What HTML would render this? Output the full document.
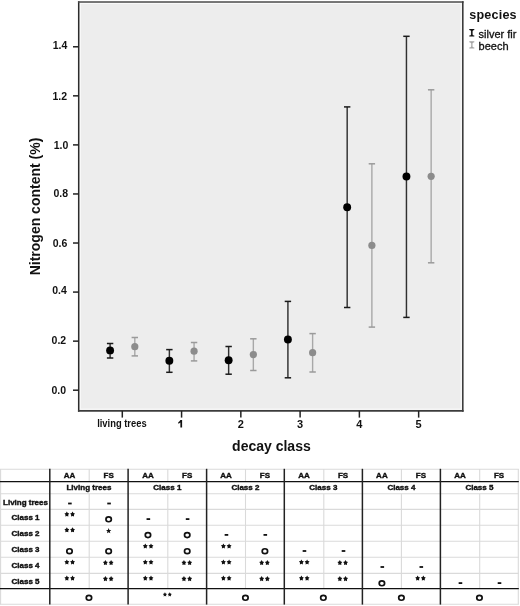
<!DOCTYPE html>
<html><head><meta charset="utf-8"><style>
html,body{margin:0;padding:0;background:#fff;width:520px;height:606px;overflow:hidden;}
svg{display:block;will-change:transform;}
text{font-family:"Liberation Sans", sans-serif;}
</style></head><body>
<svg width="520" height="606" viewBox="0 0 520 606">

<rect x="78.7" y="1.9" width="384.10" height="409.00" fill="#ededed"/>
<rect x="80.30" y="3.50" width="380.90" height="405.60" fill="none" stroke="#f9f9f9" stroke-width="1.1"/>
<line x1="78.7" y1="1.15" x2="78.7" y2="411.79999999999995" stroke="#2c2c2c" stroke-width="1.5"/>
<line x1="77.95" y1="1.9" x2="463.6" y2="1.9" stroke="#4c4c4c" stroke-width="1.5"/>
<line x1="462.8" y1="1.15" x2="462.8" y2="411.79999999999995" stroke="#3c3c3c" stroke-width="1.6"/>
<line x1="77.95" y1="410.9" x2="463.6" y2="410.9" stroke="#3c3c3c" stroke-width="1.9"/>
<line x1="73" y1="390.20" x2="78.7" y2="390.20" stroke="#222" stroke-width="1.5"/>
<text x="66.00" y="393.50" font-size="10.5" font-weight="bold" text-anchor="end" fill="#111">0.0</text>
<line x1="73" y1="341.14" x2="78.7" y2="341.14" stroke="#222" stroke-width="1.5"/>
<text x="66.20" y="343.84" font-size="10.5" font-weight="bold" text-anchor="end" fill="#111">0.2</text>
<line x1="73" y1="292.08" x2="78.7" y2="292.08" stroke="#222" stroke-width="1.5"/>
<text x="66.80" y="293.78" font-size="10.5" font-weight="bold" text-anchor="end" fill="#111">0.4</text>
<line x1="73" y1="243.02" x2="78.7" y2="243.02" stroke="#222" stroke-width="1.5"/>
<text x="67.40" y="247.02" font-size="10.5" font-weight="bold" text-anchor="end" fill="#111">0.6</text>
<line x1="73" y1="193.96" x2="78.7" y2="193.96" stroke="#222" stroke-width="1.5"/>
<text x="68.00" y="197.06" font-size="10.5" font-weight="bold" text-anchor="end" fill="#111">0.8</text>
<line x1="73" y1="144.90" x2="78.7" y2="144.90" stroke="#222" stroke-width="1.5"/>
<text x="68.30" y="149.10" font-size="10.5" font-weight="bold" text-anchor="end" fill="#111">1.0</text>
<line x1="73" y1="95.84" x2="78.7" y2="95.84" stroke="#222" stroke-width="1.5"/>
<text x="67.10" y="99.74" font-size="10.5" font-weight="bold" text-anchor="end" fill="#111">1.2</text>
<line x1="73" y1="46.78" x2="78.7" y2="46.78" stroke="#222" stroke-width="1.5"/>
<text x="67.40" y="49.48" font-size="10.5" font-weight="bold" text-anchor="end" fill="#111">1.4</text>
<line x1="122.30" y1="410.9" x2="122.30" y2="417.6" stroke="#222" stroke-width="1.5"/>
<text x="121.90" y="427" font-size="11" font-weight="bold" textLength="49.5" lengthAdjust="spacingAndGlyphs" text-anchor="middle" fill="#111">living trees</text>
<line x1="181.57" y1="410.9" x2="181.57" y2="417.6" stroke="#222" stroke-width="1.5"/>
<path d="M180.37,420.0 L182.12,420.0 L182.12,427.6 L180.37,427.6 L180.37,422.6 Q179.37,423.4 178.27,423.7 L178.27,422.3 Q179.77,421.6 180.37,420.0 Z" fill="#111"/>
<line x1="240.84" y1="410.9" x2="240.84" y2="417.6" stroke="#222" stroke-width="1.5"/>
<text x="240.84" y="427.6" font-size="11" font-weight="bold" text-anchor="middle" fill="#111">2</text>
<line x1="300.11" y1="410.9" x2="300.11" y2="417.6" stroke="#222" stroke-width="1.5"/>
<text x="300.11" y="427.6" font-size="11" font-weight="bold" text-anchor="middle" fill="#111">3</text>
<line x1="359.38" y1="410.9" x2="359.38" y2="417.6" stroke="#222" stroke-width="1.5"/>
<text x="359.38" y="427.6" font-size="11" font-weight="bold" text-anchor="middle" fill="#111">4</text>
<line x1="418.65" y1="410.9" x2="418.65" y2="417.6" stroke="#222" stroke-width="1.5"/>
<text x="418.65" y="427.6" font-size="11" font-weight="bold" text-anchor="middle" fill="#111">5</text>
<text x="271.4" y="451" font-size="14" font-weight="bold" text-anchor="middle" fill="#111">decay class</text>
<text transform="translate(40.4,206.5) rotate(-90)" x="0" y="0" font-size="14" font-weight="bold" text-anchor="middle" fill="#111">Nitrogen content (%)</text>
<line x1="110.10" y1="343.5" x2="110.10" y2="358" stroke="#303030" stroke-width="1.45"/><line x1="106.90" y1="343.5" x2="113.30" y2="343.5" stroke="#1a1a1a" stroke-width="1.5"/><line x1="106.90" y1="358" x2="113.30" y2="358" stroke="#1a1a1a" stroke-width="1.5"/><circle cx="110.10" cy="350.4" r="3.95" fill="#000"/>
<line x1="134.80" y1="337.5" x2="134.80" y2="355.9" stroke="#a8a8a8" stroke-width="1.4"/><line x1="131.60" y1="337.5" x2="138.00" y2="337.5" stroke="#9a9a9a" stroke-width="1.5"/><line x1="131.60" y1="355.9" x2="138.00" y2="355.9" stroke="#9a9a9a" stroke-width="1.5"/><circle cx="134.80" cy="346.7" r="3.6" fill="#8c8c8c"/>
<line x1="169.37" y1="349.6" x2="169.37" y2="372.3" stroke="#303030" stroke-width="1.45"/><line x1="166.17" y1="349.6" x2="172.57" y2="349.6" stroke="#1a1a1a" stroke-width="1.5"/><line x1="166.17" y1="372.3" x2="172.57" y2="372.3" stroke="#1a1a1a" stroke-width="1.5"/><circle cx="169.37" cy="360.7" r="3.95" fill="#000"/>
<line x1="194.07" y1="342.5" x2="194.07" y2="360.9" stroke="#a8a8a8" stroke-width="1.4"/><line x1="190.87" y1="342.5" x2="197.27" y2="342.5" stroke="#9a9a9a" stroke-width="1.5"/><line x1="190.87" y1="360.9" x2="197.27" y2="360.9" stroke="#9a9a9a" stroke-width="1.5"/><circle cx="194.07" cy="351.2" r="3.6" fill="#8c8c8c"/>
<line x1="228.64" y1="346.5" x2="228.64" y2="374.2" stroke="#303030" stroke-width="1.45"/><line x1="225.44" y1="346.5" x2="231.84" y2="346.5" stroke="#1a1a1a" stroke-width="1.5"/><line x1="225.44" y1="374.2" x2="231.84" y2="374.2" stroke="#1a1a1a" stroke-width="1.5"/><circle cx="228.64" cy="360.2" r="3.95" fill="#000"/>
<line x1="253.34" y1="338.8" x2="253.34" y2="370.5" stroke="#a8a8a8" stroke-width="1.4"/><line x1="250.14" y1="338.8" x2="256.54" y2="338.8" stroke="#9a9a9a" stroke-width="1.5"/><line x1="250.14" y1="370.5" x2="256.54" y2="370.5" stroke="#9a9a9a" stroke-width="1.5"/><circle cx="253.34" cy="354.6" r="3.6" fill="#8c8c8c"/>
<line x1="287.91" y1="301.4" x2="287.91" y2="377.8" stroke="#303030" stroke-width="1.45"/><line x1="284.71" y1="301.4" x2="291.11" y2="301.4" stroke="#1a1a1a" stroke-width="1.5"/><line x1="284.71" y1="377.8" x2="291.11" y2="377.8" stroke="#1a1a1a" stroke-width="1.5"/><circle cx="287.91" cy="339.5" r="3.95" fill="#000"/>
<line x1="312.61" y1="333.6" x2="312.61" y2="372" stroke="#a8a8a8" stroke-width="1.4"/><line x1="309.41" y1="333.6" x2="315.81" y2="333.6" stroke="#9a9a9a" stroke-width="1.5"/><line x1="309.41" y1="372" x2="315.81" y2="372" stroke="#9a9a9a" stroke-width="1.5"/><circle cx="312.61" cy="352.7" r="3.6" fill="#8c8c8c"/>
<line x1="347.18" y1="106.9" x2="347.18" y2="307.5" stroke="#303030" stroke-width="1.45"/><line x1="343.98" y1="106.9" x2="350.38" y2="106.9" stroke="#1a1a1a" stroke-width="1.5"/><line x1="343.98" y1="307.5" x2="350.38" y2="307.5" stroke="#1a1a1a" stroke-width="1.5"/><circle cx="347.18" cy="207.2" r="3.95" fill="#000"/>
<line x1="371.88" y1="163.8" x2="371.88" y2="327.1" stroke="#a8a8a8" stroke-width="1.4"/><line x1="368.68" y1="163.8" x2="375.08" y2="163.8" stroke="#9a9a9a" stroke-width="1.5"/><line x1="368.68" y1="327.1" x2="375.08" y2="327.1" stroke="#9a9a9a" stroke-width="1.5"/><circle cx="371.88" cy="245.4" r="3.6" fill="#8c8c8c"/>
<line x1="406.45" y1="36.3" x2="406.45" y2="317.4" stroke="#303030" stroke-width="1.45"/><line x1="403.25" y1="36.3" x2="409.65" y2="36.3" stroke="#1a1a1a" stroke-width="1.5"/><line x1="403.25" y1="317.4" x2="409.65" y2="317.4" stroke="#1a1a1a" stroke-width="1.5"/><circle cx="406.45" cy="176.5" r="3.95" fill="#000"/>
<line x1="431.15" y1="89.8" x2="431.15" y2="262.8" stroke="#a8a8a8" stroke-width="1.4"/><line x1="427.95" y1="89.8" x2="434.35" y2="89.8" stroke="#9a9a9a" stroke-width="1.5"/><line x1="427.95" y1="262.8" x2="434.35" y2="262.8" stroke="#9a9a9a" stroke-width="1.5"/><circle cx="431.15" cy="176.3" r="3.6" fill="#8c8c8c"/>
<text x="469.2" y="19" font-size="12.6" font-weight="bold" letter-spacing="0.2" fill="#111">species</text>
<line x1="471.8" y1="29.7" x2="471.8" y2="35.9" stroke="#222" stroke-width="1.7"/><path d="M469.3,29.0 L474.3,29.0 L474.3,30.0 Q472.8,30.2 471.8,31.3 Q470.8,30.2 469.3,30.0 Z" fill="#111"/><path d="M469.3,36.6 L474.3,36.6 L474.3,35.6 Q472.8,35.4 471.8,34.3 Q470.8,35.4 469.3,35.6 Z" fill="#111"/>
<line x1="471.8" y1="41.9" x2="471.8" y2="47.9" stroke="#bbbbbb" stroke-width="1.7"/><path d="M469.3,41.199999999999996 L474.3,41.199999999999996 L474.3,42.199999999999996 Q472.8,42.4 471.8,43.5 Q470.8,42.4 469.3,42.199999999999996 Z" fill="#a4a4a4"/><path d="M469.3,48.6 L474.3,48.6 L474.3,47.6 Q472.8,47.4 471.8,46.3 Q470.8,47.4 469.3,47.6 Z" fill="#a4a4a4"/>
<text x="478.6" y="37.7" font-size="11" fill="#111" stroke="#111" stroke-width="0.3">silver fir</text>
<text x="478.6" y="49.7" font-size="11" fill="#111" stroke="#111" stroke-width="0.3">beech</text>
<line x1="0" y1="469.2" x2="518.8" y2="469.2" stroke="#dadada" stroke-width="1.1"/>
<line x1="0" y1="493.8" x2="518.8" y2="493.8" stroke="#dadada" stroke-width="1.1"/>
<line x1="0" y1="509.4" x2="518.8" y2="509.4" stroke="#dadada" stroke-width="1.1"/>
<line x1="0" y1="525.2" x2="518.8" y2="525.2" stroke="#dadada" stroke-width="1.1"/>
<line x1="0" y1="541.3" x2="518.8" y2="541.3" stroke="#dadada" stroke-width="1.1"/>
<line x1="0" y1="557.3" x2="518.8" y2="557.3" stroke="#dadada" stroke-width="1.1"/>
<line x1="0" y1="573.4" x2="518.8" y2="573.4" stroke="#dadada" stroke-width="1.1"/>
<line x1="0" y1="604.3" x2="518.8" y2="604.3" stroke="#dadada" stroke-width="1.1"/>
<line x1="0.6" y1="469" x2="0.6" y2="604.5" stroke="#dadada" stroke-width="1.1"/>
<line x1="518.3" y1="469" x2="518.3" y2="604.5" stroke="#dadada" stroke-width="1.1"/>
<line x1="89.2" y1="469" x2="89.2" y2="481.5" stroke="#dadada" stroke-width="1.1"/>
<line x1="89.2" y1="493.8" x2="89.2" y2="588.4" stroke="#dadada" stroke-width="1.1"/>
<line x1="167.8" y1="469" x2="167.8" y2="481.5" stroke="#dadada" stroke-width="1.1"/>
<line x1="167.8" y1="493.8" x2="167.8" y2="588.4" stroke="#dadada" stroke-width="1.1"/>
<line x1="245.5" y1="469" x2="245.5" y2="481.5" stroke="#dadada" stroke-width="1.1"/>
<line x1="245.5" y1="493.8" x2="245.5" y2="588.4" stroke="#dadada" stroke-width="1.1"/>
<line x1="323.8" y1="469" x2="323.8" y2="481.5" stroke="#dadada" stroke-width="1.1"/>
<line x1="323.8" y1="493.8" x2="323.8" y2="588.4" stroke="#dadada" stroke-width="1.1"/>
<line x1="401.4" y1="469" x2="401.4" y2="481.5" stroke="#dadada" stroke-width="1.1"/>
<line x1="401.4" y1="493.8" x2="401.4" y2="588.4" stroke="#dadada" stroke-width="1.1"/>
<line x1="479.7" y1="469" x2="479.7" y2="481.5" stroke="#dadada" stroke-width="1.1"/>
<line x1="479.7" y1="493.8" x2="479.7" y2="588.4" stroke="#dadada" stroke-width="1.1"/>
<line x1="0" y1="481.5" x2="518.8" y2="481.5" stroke="#111" stroke-width="1.25"/>
<line x1="0" y1="588.5" x2="518.8" y2="588.5" stroke="#111" stroke-width="1.25"/>
<line x1="49.8" y1="468.8" x2="49.8" y2="604.6" stroke="#222" stroke-width="1.5"/>
<line x1="128.1" y1="468.8" x2="128.1" y2="604.6" stroke="#222" stroke-width="1.5"/>
<line x1="206.6" y1="468.8" x2="206.6" y2="604.6" stroke="#222" stroke-width="1.5"/>
<line x1="284.3" y1="468.8" x2="284.3" y2="604.6" stroke="#222" stroke-width="1.5"/>
<line x1="362.4" y1="468.8" x2="362.4" y2="604.6" stroke="#222" stroke-width="1.5"/>
<line x1="440.4" y1="468.8" x2="440.4" y2="604.6" stroke="#222" stroke-width="1.5"/>
<text x="69.50" y="478.2" font-size="8" font-weight="bold" fill="#111" stroke="#111" stroke-width="0.4" text-anchor="middle">AA</text>
<text x="108.65" y="478.2" font-size="8" font-weight="bold" fill="#111" stroke="#111" stroke-width="0.4" text-anchor="middle">FS</text>
<text x="88.95" y="490.2" font-size="8" font-weight="bold" fill="#111" stroke="#111" stroke-width="0.4" text-anchor="middle">Living trees</text>
<text x="147.95" y="478.2" font-size="8" font-weight="bold" fill="#111" stroke="#111" stroke-width="0.4" text-anchor="middle">AA</text>
<text x="187.20" y="478.2" font-size="8" font-weight="bold" fill="#111" stroke="#111" stroke-width="0.4" text-anchor="middle">FS</text>
<text x="167.35" y="490.2" font-size="8" font-weight="bold" fill="#111" stroke="#111" stroke-width="0.4" text-anchor="middle">Class 1</text>
<text x="226.05" y="478.2" font-size="8" font-weight="bold" fill="#111" stroke="#111" stroke-width="0.4" text-anchor="middle">AA</text>
<text x="264.90" y="478.2" font-size="8" font-weight="bold" fill="#111" stroke="#111" stroke-width="0.4" text-anchor="middle">FS</text>
<text x="245.45" y="490.2" font-size="8" font-weight="bold" fill="#111" stroke="#111" stroke-width="0.4" text-anchor="middle">Class 2</text>
<text x="304.05" y="478.2" font-size="8" font-weight="bold" fill="#111" stroke="#111" stroke-width="0.4" text-anchor="middle">AA</text>
<text x="343.10" y="478.2" font-size="8" font-weight="bold" fill="#111" stroke="#111" stroke-width="0.4" text-anchor="middle">FS</text>
<text x="323.35" y="490.2" font-size="8" font-weight="bold" fill="#111" stroke="#111" stroke-width="0.4" text-anchor="middle">Class 3</text>
<text x="381.90" y="478.2" font-size="8" font-weight="bold" fill="#111" stroke="#111" stroke-width="0.4" text-anchor="middle">AA</text>
<text x="420.90" y="478.2" font-size="8" font-weight="bold" fill="#111" stroke="#111" stroke-width="0.4" text-anchor="middle">FS</text>
<text x="401.40" y="490.2" font-size="8" font-weight="bold" fill="#111" stroke="#111" stroke-width="0.4" text-anchor="middle">Class 4</text>
<text x="460.05" y="478.2" font-size="8" font-weight="bold" fill="#111" stroke="#111" stroke-width="0.4" text-anchor="middle">AA</text>
<text x="499.10" y="478.2" font-size="8" font-weight="bold" fill="#111" stroke="#111" stroke-width="0.4" text-anchor="middle">FS</text>
<text x="479.45" y="490.2" font-size="8" font-weight="bold" fill="#111" stroke="#111" stroke-width="0.4" text-anchor="middle">Class 5</text>
<text x="25.5" y="504.50" font-size="8" font-weight="bold" fill="#111" stroke="#111" stroke-width="0.4" text-anchor="middle">Living trees</text>
<text x="25.5" y="520.20" font-size="8" font-weight="bold" fill="#111" stroke="#111" stroke-width="0.4" text-anchor="middle">Class 1</text>
<text x="25.5" y="536.15" font-size="8" font-weight="bold" fill="#111" stroke="#111" stroke-width="0.4" text-anchor="middle">Class 2</text>
<text x="25.5" y="552.20" font-size="8" font-weight="bold" fill="#111" stroke="#111" stroke-width="0.4" text-anchor="middle">Class 3</text>
<text x="25.5" y="568.25" font-size="8" font-weight="bold" fill="#111" stroke="#111" stroke-width="0.4" text-anchor="middle">Class 4</text>
<text x="25.5" y="583.80" font-size="8" font-weight="bold" fill="#111" stroke="#111" stroke-width="0.4" text-anchor="middle">Class 5</text>
<rect x="68.10" y="502.60" width="3.6" height="1.8" fill="#111"/>
<rect x="107.25" y="502.60" width="3.6" height="1.8" fill="#111"/>
<polygon points="66.85,511.49 67.70,513.01 69.28,513.43 68.23,514.79 68.35,516.57 66.85,515.89 65.35,516.57 65.47,514.79 64.42,513.43 66.00,513.01" fill="#111"/><polygon points="72.55,511.49 73.40,513.01 74.98,513.43 73.93,514.79 74.05,516.57 72.55,515.89 71.05,516.57 71.17,514.79 70.12,513.43 71.70,513.01" fill="#111"/>
<ellipse cx="108.65" cy="519.30" rx="2.7" ry="2.45" fill="none" stroke="#111" stroke-width="1.7"/>
<rect x="146.55" y="518.20" width="3.6" height="1.8" fill="#111"/>
<rect x="185.80" y="518.20" width="3.6" height="1.8" fill="#111"/>
<polygon points="66.85,527.30 67.70,528.81 69.28,529.23 68.23,530.59 68.35,532.37 66.85,531.70 65.35,532.37 65.47,530.59 64.42,529.23 66.00,528.81" fill="#111"/><polygon points="72.55,527.30 73.40,528.81 74.98,529.23 73.93,530.59 74.05,532.37 72.55,531.70 71.05,532.37 71.17,530.59 70.12,529.23 71.70,528.81" fill="#111"/>
<polygon points="108.65,528.01 109.38,529.89 111.31,530.04 109.84,531.36 110.30,533.33 108.65,532.26 107.00,533.33 107.46,531.36 105.99,530.04 107.92,529.89" fill="#111"/>
<ellipse cx="147.95" cy="535.10" rx="2.7" ry="2.45" fill="none" stroke="#111" stroke-width="1.7"/>
<ellipse cx="187.20" cy="535.10" rx="2.7" ry="2.45" fill="none" stroke="#111" stroke-width="1.7"/>
<rect x="224.65" y="534.00" width="3.6" height="1.8" fill="#111"/>
<rect x="263.50" y="534.00" width="3.6" height="1.8" fill="#111"/>
<ellipse cx="69.50" cy="551.20" rx="2.7" ry="2.45" fill="none" stroke="#111" stroke-width="1.7"/>
<ellipse cx="108.65" cy="551.20" rx="2.7" ry="2.45" fill="none" stroke="#111" stroke-width="1.7"/>
<polygon points="145.30,543.39 146.15,544.91 147.73,545.33 146.68,546.69 146.80,548.47 145.30,547.79 143.80,548.47 143.92,546.69 142.87,545.33 144.45,544.91" fill="#111"/><polygon points="151.00,543.39 151.85,544.91 153.43,545.33 152.38,546.69 152.50,548.47 151.00,547.79 149.50,548.47 149.62,546.69 148.57,545.33 150.15,544.91" fill="#111"/>
<ellipse cx="187.20" cy="551.20" rx="2.7" ry="2.45" fill="none" stroke="#111" stroke-width="1.7"/>
<polygon points="223.40,543.39 224.25,544.91 225.83,545.33 224.78,546.69 224.90,548.47 223.40,547.79 221.90,548.47 222.02,546.69 220.97,545.33 222.55,544.91" fill="#111"/><polygon points="229.10,543.39 229.95,544.91 231.53,545.33 230.48,546.69 230.60,548.47 229.10,547.79 227.60,548.47 227.72,546.69 226.67,545.33 228.25,544.91" fill="#111"/>
<ellipse cx="264.90" cy="551.20" rx="2.7" ry="2.45" fill="none" stroke="#111" stroke-width="1.7"/>
<rect x="302.65" y="550.10" width="3.6" height="1.8" fill="#111"/>
<rect x="341.70" y="550.10" width="3.6" height="1.8" fill="#111"/>
<polygon points="66.85,559.39 67.70,560.91 69.28,561.33 68.23,562.69 68.35,564.47 66.85,563.79 65.35,564.47 65.47,562.69 64.42,561.33 66.00,560.91" fill="#111"/><polygon points="72.55,559.39 73.40,560.91 74.98,561.33 73.93,562.69 74.05,564.47 72.55,563.79 71.05,564.47 71.17,562.69 70.12,561.33 71.70,560.91" fill="#111"/>
<polygon points="105.40,560.00 106.25,561.51 107.83,561.93 106.78,563.29 106.90,565.07 105.40,564.39 103.90,565.07 104.02,563.29 102.97,561.93 104.55,561.51" fill="#111"/><polygon points="111.10,560.00 111.95,561.51 113.53,561.93 112.48,563.29 112.60,565.07 111.10,564.39 109.60,565.07 109.72,563.29 108.67,561.93 110.25,561.51" fill="#111"/>
<polygon points="145.30,559.39 146.15,560.91 147.73,561.33 146.68,562.69 146.80,564.47 145.30,563.79 143.80,564.47 143.92,562.69 142.87,561.33 144.45,560.91" fill="#111"/><polygon points="151.00,559.39 151.85,560.91 153.43,561.33 152.38,562.69 152.50,564.47 151.00,563.79 149.50,564.47 149.62,562.69 148.57,561.33 150.15,560.91" fill="#111"/>
<polygon points="183.95,560.00 184.80,561.51 186.38,561.93 185.33,563.29 185.45,565.07 183.95,564.39 182.45,565.07 182.57,563.29 181.52,561.93 183.10,561.51" fill="#111"/><polygon points="189.65,560.00 190.50,561.51 192.08,561.93 191.03,563.29 191.15,565.07 189.65,564.39 188.15,565.07 188.27,563.29 187.22,561.93 188.80,561.51" fill="#111"/>
<polygon points="223.40,559.39 224.25,560.91 225.83,561.33 224.78,562.69 224.90,564.47 223.40,563.79 221.90,564.47 222.02,562.69 220.97,561.33 222.55,560.91" fill="#111"/><polygon points="229.10,559.39 229.95,560.91 231.53,561.33 230.48,562.69 230.60,564.47 229.10,563.79 227.60,564.47 227.72,562.69 226.67,561.33 228.25,560.91" fill="#111"/>
<polygon points="261.65,560.00 262.50,561.51 264.08,561.93 263.03,563.29 263.15,565.07 261.65,564.39 260.15,565.07 260.27,563.29 259.22,561.93 260.80,561.51" fill="#111"/><polygon points="267.35,560.00 268.20,561.51 269.78,561.93 268.73,563.29 268.85,565.07 267.35,564.39 265.85,565.07 265.97,563.29 264.92,561.93 266.50,561.51" fill="#111"/>
<polygon points="301.40,559.39 302.25,560.91 303.83,561.33 302.78,562.69 302.90,564.47 301.40,563.79 299.90,564.47 300.02,562.69 298.97,561.33 300.55,560.91" fill="#111"/><polygon points="307.10,559.39 307.95,560.91 309.53,561.33 308.48,562.69 308.60,564.47 307.10,563.79 305.60,564.47 305.72,562.69 304.67,561.33 306.25,560.91" fill="#111"/>
<polygon points="339.85,560.00 340.70,561.51 342.28,561.93 341.23,563.29 341.35,565.07 339.85,564.39 338.35,565.07 338.47,563.29 337.42,561.93 339.00,561.51" fill="#111"/><polygon points="345.55,560.00 346.40,561.51 347.98,561.93 346.93,563.29 347.05,565.07 345.55,564.39 344.05,565.07 344.17,563.29 343.12,561.93 344.70,561.51" fill="#111"/>
<rect x="380.50" y="566.10" width="3.6" height="1.8" fill="#111"/>
<rect x="419.50" y="566.10" width="3.6" height="1.8" fill="#111"/>
<polygon points="66.85,575.50 67.70,577.01 69.28,577.43 68.23,578.79 68.35,580.57 66.85,579.89 65.35,580.57 65.47,578.79 64.42,577.43 66.00,577.01" fill="#111"/><polygon points="72.55,575.50 73.40,577.01 74.98,577.43 73.93,578.79 74.05,580.57 72.55,579.89 71.05,580.57 71.17,578.79 70.12,577.43 71.70,577.01" fill="#111"/>
<polygon points="105.40,576.10 106.25,577.61 107.83,578.03 106.78,579.39 106.90,581.17 105.40,580.50 103.90,581.17 104.02,579.39 102.97,578.03 104.55,577.61" fill="#111"/><polygon points="111.10,576.10 111.95,577.61 113.53,578.03 112.48,579.39 112.60,581.17 111.10,580.50 109.60,581.17 109.72,579.39 108.67,578.03 110.25,577.61" fill="#111"/>
<polygon points="145.30,575.50 146.15,577.01 147.73,577.43 146.68,578.79 146.80,580.57 145.30,579.89 143.80,580.57 143.92,578.79 142.87,577.43 144.45,577.01" fill="#111"/><polygon points="151.00,575.50 151.85,577.01 153.43,577.43 152.38,578.79 152.50,580.57 151.00,579.89 149.50,580.57 149.62,578.79 148.57,577.43 150.15,577.01" fill="#111"/>
<polygon points="183.95,576.10 184.80,577.61 186.38,578.03 185.33,579.39 185.45,581.17 183.95,580.50 182.45,581.17 182.57,579.39 181.52,578.03 183.10,577.61" fill="#111"/><polygon points="189.65,576.10 190.50,577.61 192.08,578.03 191.03,579.39 191.15,581.17 189.65,580.50 188.15,581.17 188.27,579.39 187.22,578.03 188.80,577.61" fill="#111"/>
<polygon points="223.40,575.50 224.25,577.01 225.83,577.43 224.78,578.79 224.90,580.57 223.40,579.89 221.90,580.57 222.02,578.79 220.97,577.43 222.55,577.01" fill="#111"/><polygon points="229.10,575.50 229.95,577.01 231.53,577.43 230.48,578.79 230.60,580.57 229.10,579.89 227.60,580.57 227.72,578.79 226.67,577.43 228.25,577.01" fill="#111"/>
<polygon points="261.65,576.10 262.50,577.61 264.08,578.03 263.03,579.39 263.15,581.17 261.65,580.50 260.15,581.17 260.27,579.39 259.22,578.03 260.80,577.61" fill="#111"/><polygon points="267.35,576.10 268.20,577.61 269.78,578.03 268.73,579.39 268.85,581.17 267.35,580.50 265.85,581.17 265.97,579.39 264.92,578.03 266.50,577.61" fill="#111"/>
<polygon points="301.40,575.50 302.25,577.01 303.83,577.43 302.78,578.79 302.90,580.57 301.40,579.89 299.90,580.57 300.02,578.79 298.97,577.43 300.55,577.01" fill="#111"/><polygon points="307.10,575.50 307.95,577.01 309.53,577.43 308.48,578.79 308.60,580.57 307.10,579.89 305.60,580.57 305.72,578.79 304.67,577.43 306.25,577.01" fill="#111"/>
<polygon points="339.85,576.10 340.70,577.61 342.28,578.03 341.23,579.39 341.35,581.17 339.85,580.50 338.35,581.17 338.47,579.39 337.42,578.03 339.00,577.61" fill="#111"/><polygon points="345.55,576.10 346.40,577.61 347.98,578.03 346.93,579.39 347.05,581.17 345.55,580.50 344.05,581.17 344.17,579.39 343.12,578.03 344.70,577.61" fill="#111"/>
<ellipse cx="381.90" cy="583.30" rx="2.7" ry="2.45" fill="none" stroke="#111" stroke-width="1.7"/>
<polygon points="417.65,575.50 418.50,577.01 420.08,577.43 419.03,578.79 419.15,580.57 417.65,579.89 416.15,580.57 416.27,578.79 415.22,577.43 416.80,577.01" fill="#111"/><polygon points="423.35,575.50 424.20,577.01 425.78,577.43 424.73,578.79 424.85,580.57 423.35,579.89 421.85,580.57 421.97,578.79 420.92,577.43 422.50,577.01" fill="#111"/>
<rect x="458.65" y="582.20" width="3.6" height="1.8" fill="#111"/>
<rect x="497.70" y="582.20" width="3.6" height="1.8" fill="#111"/>
<ellipse cx="88.95" cy="597.8" rx="2.7" ry="2.45" fill="none" stroke="#111" stroke-width="1.7"/>
<polygon points="164.95,592.34 165.63,593.62 166.99,593.90 166.04,594.97 166.21,596.43 164.95,595.81 163.69,596.43 163.86,594.97 162.91,593.90 164.27,593.62" fill="#111"/><polygon points="169.75,592.34 170.43,593.62 171.79,593.90 170.84,594.97 171.01,596.43 169.75,595.81 168.49,596.43 168.66,594.97 167.71,593.90 169.07,593.62" fill="#111"/>
<ellipse cx="245.45" cy="597.8" rx="2.7" ry="2.45" fill="none" stroke="#111" stroke-width="1.7"/>
<ellipse cx="323.35" cy="597.8" rx="2.7" ry="2.45" fill="none" stroke="#111" stroke-width="1.7"/>
<ellipse cx="401.40" cy="597.8" rx="2.7" ry="2.45" fill="none" stroke="#111" stroke-width="1.7"/>
<ellipse cx="479.45" cy="597.8" rx="2.7" ry="2.45" fill="none" stroke="#111" stroke-width="1.7"/>
</svg></body></html>
